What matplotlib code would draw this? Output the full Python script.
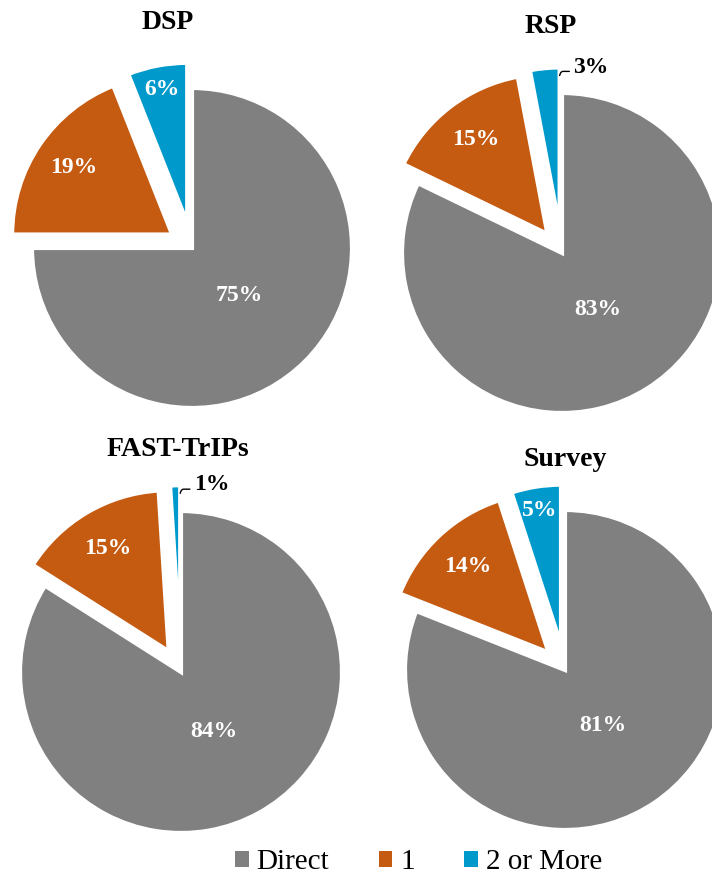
import matplotlib
matplotlib.use("Agg")
import matplotlib.pyplot as plt
from matplotlib.patches import Patch
import numpy as np

plt.rcParams["font.family"] = ["Liberation Serif", "DejaVu Serif"]

categories = ["Direct", "1", "2 or More"]
colors = ["#808080", "#C55A11", "#0099CC"]

titles = ["DSP", "RSP", "FAST-TrIPs", "Survey"]
shares = {
    "DSP": [75, 19, 6],
    "RSP": [83, 15, 3],
    "FAST-TrIPs": [84, 15, 1],
    "Survey": [81, 14, 5],
}

W, H = 712, 877
fig = plt.figure(figsize=(W / 100, H / 100), dpi=100)

# pie centre / radius in pixels (from the top-left), and title baseline
panels = {
    "DSP": dict(c=(192, 248), r=160, title=(168, 29)),
    "RSP": dict(c=(562, 253), r=160, title=(551, 33)),
    "FAST-TrIPs": dict(c=(181, 672), r=161, title=(178, 456)),
    "Survey": dict(c=(565, 670), r=160, title=(565, 466)),
}

label_dist = [0.42, 0.74, 0.85]
s = 1.5

for name in titles:
    p = panels[name]
    cx, cy = p["c"]
    r = p["r"]
    ax = fig.add_axes([(cx - r * s) / W, (H - cy - r * s) / H,
                       2 * r * s / W, 2 * r * s / H])

    vals = shares[name]
    wedges, _ = ax.pie(vals, colors=colors, startangle=90, counterclock=False,
                       explode=[0, 0.15, 0.16], radius=1,
                       wedgeprops=dict(edgecolor="white", linewidth=3))
    ax.set_xlim(-s, s)
    ax.set_ylim(-s, s)
    ax.set_aspect("equal")
    ax.axis("off")

    for i, (w, v) in enumerate(zip(wedges, vals)):
        mid = np.deg2rad((w.theta1 + w.theta2) / 2)
        wx, wy = w.center
        if v < 4:
            # thin slice: label outside, leader from the slice's right edge
            edge = np.deg2rad(w.theta1)
            tip = (wx + np.cos(edge) * 0.95, wy + np.sin(edge) * 0.95)
            ax.annotate(f"{v}%", xy=tip, xytext=(10, 6),
                        textcoords="offset points",
                        fontsize=17, fontweight="bold", color="black",
                        ha="left", va="center",
                        arrowprops=dict(arrowstyle="-", color="black", lw=1,
                                        shrinkA=1, shrinkB=0, relpos=(0, 0.3),
                                        connectionstyle="angle,angleA=0,angleB=70,rad=2"))
        else:
            d = label_dist[i]
            ax.text(wx + np.cos(mid) * d, wy + np.sin(mid) * d, f"{v}%",
                    ha="center", va="center", fontsize=17, fontweight="bold",
                    color="white")

    tx, ty = p["title"]
    fig.text(tx / W, 1 - ty / H, name, ha="center", va="baseline",
             fontsize=20, fontweight="bold")

handles = [Patch(facecolor=c, edgecolor="none") for c in colors]
fig.legend(handles, categories, loc="lower center",
           bbox_to_anchor=(0.588, -0.028), ncol=3, frameon=False, fontsize=21,
           handlelength=0.45, handleheight=0.45, handletextpad=0.28,
           columnspacing=1.7)

fig.savefig("out.png", dpi=100)
